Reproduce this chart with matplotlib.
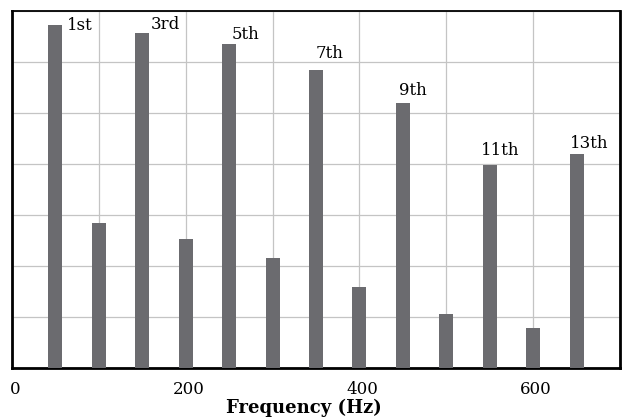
import matplotlib
matplotlib.use("Agg")
import matplotlib.pyplot as plt
import matplotlib.transforms as mtransforms

freqs = [50, 100, 150, 200, 250, 300, 350, 400, 450, 500, 550, 600, 650]
amps = [6.72, 2.85, 6.56, 2.52, 6.35, 2.15, 5.85, 1.59, 5.20, 1.05, 3.99, 0.78, 4.19]
labels = ["1st", "", "3rd", "", "5th", "", "7th", "", "9th", "", "11th", "", "13th"]
xticks = [0, 100, 200, 300, 400, 500, 600, 700]
xticklabels = ["0", "", "200", "", "400", "", "600", ""]

plt.rcParams['font.family'] = ['DejaVu Serif']

fig = plt.figure(figsize=(6.25, 4.18), dpi=100)
ax = fig.add_axes([0.0192, 0.1196, 0.9728, 0.8541])

ax.bar(freqs, amps, width=16, color='#6b6b6f', zorder=3)

ax.set_xlim(0, 700)
ax.set_ylim(0, 7)
ax.set_xticks(xticks)
ax.set_xticklabels(xticklabels, fontsize=12)
ax.set_yticks(range(8))
ax.set_yticklabels([])
ax.tick_params(length=0, pad=9)
ax.grid(True, color='#c4c4c4', linewidth=0.9, zorder=0)

shift = mtransforms.ScaledTranslation(3 / 100, 0, fig.dpi_scale_trans)
for lbl in ax.get_xticklabels():
    lbl.set_transform(lbl.get_transform() + shift)

for s in ['left', 'bottom', 'right']:
    ax.spines[s].set_linewidth(2.0)
ax.spines['top'].set_linewidth(1.3)

# label offsets (data units: x shift of left edge from bar center, baseline shift from bar top)
offs = {"1st": (13.4, -0.09), "3rd": (10, 0.09), "5th": (2.3, 0.1), "7th": (-1, 0.23),
        "9th": (-4, 0.15), "11th": (-10, 0.19), "13th": (-7.5, 0.12)}
for f, a, lab in zip(freqs, amps, labels):
    if lab:
        dx, dy = offs[lab]
        ax.text(f + dx, a + dy, lab, fontsize=12, ha='left', va='baseline', zorder=4)

ax.set_xlabel("Frequency (Hz)", fontsize=13, fontweight='bold', labelpad=0)
ax.xaxis.set_label_coords(0.48, -0.085)

fig.savefig("out.png", dpi=100)
